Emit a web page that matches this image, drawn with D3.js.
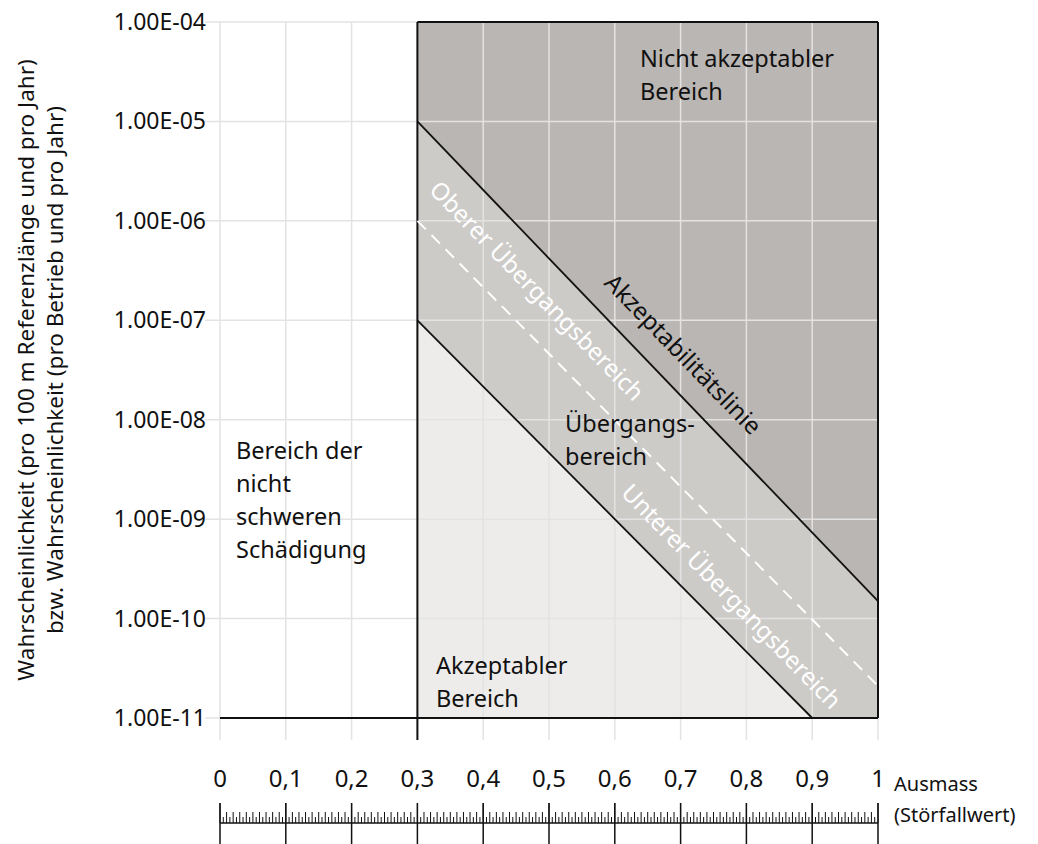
<!DOCTYPE html>
<html><head><meta charset="utf-8">
<script src="https://cdn.jsdelivr.net/npm/d3@7"></script>
<style>body{margin:0;background:#fff}text{font-family:"Noto Sans",sans-serif}</style>
</head><body><svg id="c" width="1038" height="844"></svg>
<script>
// data
var xTicks = [0,0.1,0.2,0.3,0.4,0.5,0.6,0.7,0.8,0.9,1];
var yTicks = [1e-4,1e-5,1e-6,1e-7,1e-8,1e-9,1e-10,1e-11];
var yLabels = ["1.00E-04","1.00E-05","1.00E-06","1.00E-07","1.00E-08","1.00E-09","1.00E-10","1.00E-11"];
var upperLine = [[0.3,1e-5],[1,1.5e-10]];
var dashedLine = [[0.3,1e-6],[1,2.1e-11]];
var lowerLine = [[0.3,1e-7],[0.9,1e-11]];

var svg = d3.select("#c");
var x = d3.scaleLinear().domain([0,1]).range([220,878]);
var y = d3.scaleLog().domain([1e-11,1e-4]).range([718,22]);
var P = function(p){return x(p[0])+","+y(p[1]);};

// regions
svg.append("polygon").attr("fill","#edecea")
  .attr("points",[[0.3,1e-11],[0.3,1e-7],[0.9,1e-11]].map(P).join(" "));
svg.append("polygon").attr("fill","#cdcbc8")
  .attr("points",[[0.3,1e-7],[0.3,1e-5],[1,1.5e-10],[1,1e-11],[0.9,1e-11]].map(P).join(" "));
svg.append("polygon").attr("fill","#bab6b3")
  .attr("points",[[0.3,1e-5],[0.3,1e-4],[1,1e-4],[1,1.5e-10]].map(P).join(" "));

// grid
svg.selectAll(".vg").data(xTicks).join("line")
  .attr("x1",d=>x(d)).attr("x2",d=>x(d)).attr("y1",22).attr("y2",740)
  .attr("stroke","#e3e3e3").attr("stroke-width",1.5);
svg.selectAll(".hg").data(yTicks).join("line")
  .attr("x1",205).attr("x2",878).attr("y1",d=>y(d)).attr("y2",d=>y(d))
  .attr("stroke","#e3e3e3").attr("stroke-width",1.5);

// frame lines
var k="#111";
svg.append("line").attr("x1",x(0)).attr("x2",x(1)).attr("y1",y(1e-11)).attr("y2",y(1e-11)).attr("stroke",k).attr("stroke-width",2);
svg.append("line").attr("x1",x(0.3)).attr("x2",x(0.3)).attr("y1",y(1e-4)).attr("y2",740).attr("stroke",k).attr("stroke-width",2);
svg.append("line").attr("x1",x(0.3)).attr("x2",x(1)).attr("y1",y(1e-4)).attr("y2",y(1e-4)).attr("stroke",k).attr("stroke-width",2);
svg.append("line").attr("x1",x(1)).attr("x2",x(1)).attr("y1",y(1e-4)).attr("y2",y(1e-11)).attr("stroke",k).attr("stroke-width",2);

var line = d3.line().x(d=>x(d[0])).y(d=>y(d[1]));
svg.append("path").attr("d",line(upperLine)).attr("stroke",k).attr("stroke-width",1.8).attr("fill","none");
svg.append("path").attr("d",line(lowerLine)).attr("stroke",k).attr("stroke-width",1.8).attr("fill","none");
svg.append("path").attr("d",line(dashedLine)).attr("stroke","#fff").attr("stroke-width",2).attr("stroke-dasharray","12,8").attr("fill","none");

// y labels
svg.selectAll(".yl").data(yTicks).join("text")
  .attr("x",206).attr("y",d=>y(d)+8).attr("text-anchor","end")
  .attr("font-size",23).attr("fill","#111").text((d,i)=>yLabels[i]);
svg.append("text").attr("transform","translate(34,370) rotate(-90)").attr("text-anchor","middle")
  .attr("font-size",22.5).attr("fill","#111").text("Wahrscheinlichkeit (pro 100 m Referenzlänge und pro Jahr)");
svg.append("text").attr("transform","translate(63,370) rotate(-90)").attr("text-anchor","middle")
  .attr("font-size",22.5).attr("fill","#111").text("bzw. Wahrscheinlichkeit (pro Betrieb und pro Jahr)");

// x labels
svg.selectAll(".xl").data(xTicks).join("text")
  .attr("x",d=>x(d)).attr("y",787).attr("text-anchor","middle")
  .attr("font-size",24).attr("fill","#111").text(d=>String(d).replace(".",","));
svg.append("text").attr("x",894).attr("y",791).attr("font-size",20).attr("fill","#111").text("Ausmass");
svg.append("text").attr("x",894).attr("y",822).attr("font-size",20).attr("fill","#111").text("(Störfallwert)");

// ruler
svg.append("line").attr("x1",x(0)).attr("x2",x(1)).attr("y1",823).attr("y2",823).attr("stroke",k).attr("stroke-width",1.5);
var minor = d3.range(0,201).map(i=>i/200);
svg.selectAll(".mt").data(minor).join("line")
  .attr("x1",d=>x(d)).attr("x2",d=>x(d)).attr("y1",823)
  .attr("y2",(d,i)=> i%20===0 ? 803 : (i%2===0 ? 812 : 817))
  .attr("stroke",k).attr("stroke-width",1);
svg.selectAll(".Mt").data(xTicks).join("line")
  .attr("x1",d=>x(d)).attr("x2",d=>x(d)).attr("y1",803).attr("y2",844)
  .attr("stroke",k).attr("stroke-width",1.5);

// region texts
function txt(lines,px,py,opt){
  opt=opt||{};
  var t=svg.append("text").attr("font-size",opt.fs||23.5).attr("fill",opt.fill||"#111")
    .attr("transform","translate("+px+","+py+")"+(opt.rot?" rotate("+opt.rot+")":""))
    .attr("text-anchor",opt.anchor||"start");
  lines.forEach((l,i)=>t.append("tspan").attr("x",0).attr("dy",i?33:0).text(l));
}
txt(["Nicht akzeptabler","Bereich"],640,67);
txt(["Bereich der","nicht","schweren","Schädigung"],236,459);
txt(["Akzeptabler","Bereich"],436,674);
txt(["Übergangs-","bereich"],565,432);
txt(["Akzeptabilitätslinie"],603,284,{rot:45.8,fs:24});
txt(["Oberer Übergangsbereich"],428,191,{rot:45.8,fill:"#fff",fs:24});
txt(["Unterer Übergangsbereich"],620,494,{rot:45.8,fill:"#fff",fs:24});
</script></body></html>
